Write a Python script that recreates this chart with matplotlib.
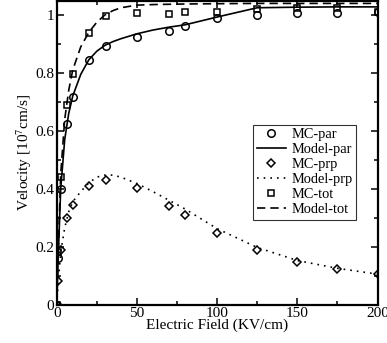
import numpy as np
import matplotlib
matplotlib.use("Agg")
import matplotlib.pyplot as plt
from matplotlib.ticker import MultipleLocator

plt.rcParams['font.family'] = ['Liberation Serif', 'DejaVu Serif']
plt.rcParams['mathtext.fontset'] = 'stix'

# Monte Carlo points (field in KV/cm, velocity in 1e7 cm/s)
mc_field = [0, 1, 2.5, 6.5, 10, 20, 31, 50, 70, 80, 100, 125, 150, 175, 200]
mc_par = [0, 0.16, 0.40, 0.623, 0.718, 0.846, 0.893, 0.924, 0.945, 0.961,
          0.989, 1.0, 1.007, 1.007, 1.01]
mc_prp = [0, 0.08, 0.19, 0.30, 0.344, 0.408, 0.431, 0.402, 0.34, 0.308,
          0.248, 0.19, 0.147, 0.124, 0.105]
mc_tot = [0, 0.18, 0.44, 0.69, 0.797, 0.938, 0.995, 1.007, 1.005, 1.011,
          1.011, 1.02, 1.025, 1.025, 1.012]

# model curves
model_field = [0, 1, 2.5, 5, 7.5, 10, 15, 20, 25, 30, 35, 40, 50, 60, 70, 80,
               100, 125, 150, 175, 200]
model_par = [0, 0.17, 0.40, 0.57, 0.66, 0.72, 0.795, 0.845, 0.875, 0.895,
             0.908, 0.918, 0.935, 0.948, 0.958, 0.966, 0.993, 1.025, 1.027,
             1.028, 1.028]
model_prp = [0, 0.08, 0.18, 0.265, 0.32, 0.355, 0.39, 0.42, 0.44, 0.447,
             0.447, 0.44, 0.418, 0.39, 0.36, 0.33, 0.262, 0.197, 0.152,
             0.125, 0.105]
model_tot = [0, 0.19, 0.45, 0.64, 0.74, 0.81, 0.89, 0.94, 0.975, 1.0, 1.015,
             1.025, 1.034, 1.036, 1.037, 1.038, 1.039, 1.04, 1.04, 1.04, 1.04]

fig = plt.figure(figsize=(3.87, 3.43), dpi=100)
ax = fig.add_axes([0.1465, 0.1122, 0.829, 0.8863])

mk = dict(linestyle='none', markerfacecolor='none', markeredgecolor='black',
          markeredgewidth=1.1)
ax.plot(mc_field, mc_par, marker='o', markersize=5.4, label='MC-par', **mk)
ax.plot(model_field, model_par, color='black', lw=1.2, label='Model-par')
ax.plot(mc_field, mc_prp, marker='D', markersize=4.3, label='MC-prp', **mk)
ax.plot(model_field, model_prp, color='black', lw=1.2, linestyle=(0, (1, 3)),
        label='Model-prp')
ax.plot(mc_field, mc_tot, marker='s', markersize=4.5, label='MC-tot', **mk)
ax.plot(model_field, model_tot, color='black', lw=1.2, linestyle=(0, (5, 3)),
        label='Model-tot')

ax.set_xlim(0, 200)
ax.set_ylim(0, 1.05)
ax.xaxis.set_major_locator(MultipleLocator(50))
ax.xaxis.set_minor_locator(MultipleLocator(25))
ax.yaxis.set_major_locator(MultipleLocator(0.2))
ax.yaxis.set_minor_locator(MultipleLocator(0.1))
ax.set_xticks([0, 50, 100, 150, 200])
ax.set_xticklabels(['0', '50', '100', '150', '200'])
ax.set_yticks([0, 0.2, 0.4, 0.6, 0.8, 1.0])
ax.set_yticklabels(['0', '0.2', '0.4', '0.6', '0.8', '1'])
ax.tick_params(which='both', direction='in', top=True, right=True,
               labelsize=11, width=1.1, pad=2)
ax.tick_params(which='major', length=5)
ax.tick_params(which='minor', length=3)
for s in ax.spines.values():
    s.set_linewidth(1.6)

ax.set_xlabel('Electric Field (KV/cm)', fontsize=11, labelpad=-1)
ax.set_ylabel('Velocity [10$^7$cm/s]', fontsize=11, labelpad=1)

leg = ax.legend(loc='lower left', bbox_to_anchor=(0.612, 0.278),
                fontsize=10.4, frameon=True, fancybox=False, edgecolor='black',
                borderpad=0.25, labelspacing=0.13, handlelength=2.0,
                handletextpad=0.4, borderaxespad=0)
leg.get_frame().set_linewidth(0.8)

fig.savefig('out.png', dpi=100)
